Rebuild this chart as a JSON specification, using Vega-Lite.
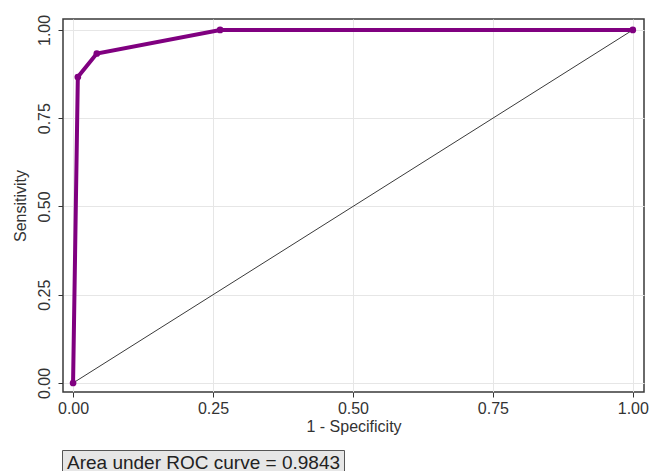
{
  "$schema": "https://vega.github.io/schema/vega-lite/v6.json",
  "autosize": {"type": "none"},
  "width": 581,
  "height": 373,
  "padding": {"left": 63, "top": 19, "right": 5, "bottom": 79},
  "background": "white",
  "config": {
    "font": "Liberation Sans",
    "view": {"stroke": "#3a3a3a", "strokeWidth": 1.5},
    "axis": {
      "labelFont": "Liberation Sans",
      "titleFont": "Liberation Sans",
      "labelFontSize": 16,
      "titleFontSize": 16,
      "titleFontWeight": "normal",
      "labelColor": "#333333",
      "titleColor": "#333333",
      "tickColor": "#333333",
      "tickSize": 5,
      "domain": false,
      "grid": true,
      "gridColor": "#e6e6e6",
      "gridWidth": 1
    },
    "legend": {
      "labelFont": "Liberation Sans"
    }
  },
  "layer": [
    {
      "data": {"values": [
        {"x": 0, "y": 0, "note": "Area under ROC curve = 0.9843"},
        {"x": 1, "y": 1, "note": "Area under ROC curve = 0.9843"}
      ]},
      "mark": {"type": "line", "strokeWidth": 1, "clip": false},
      "encoding": {
        "x": {"field": "x", "type": "quantitative"},
        "y": {"field": "y", "type": "quantitative"},
        "stroke": {
          "field": "note", "type": "nominal",
          "scale": {"range": ["#3a3a3a"]},
          "legend": {
            "title": null,
            "orient": "none",
            "legendX": -1,
            "legendY": 431,
            "fillColor": "#e6e6e6",
            "strokeColor": "#555555",
            "padding": 3,
            "symbolSize": 0,
            "symbolStrokeWidth": 0,
            "symbolOpacity": 0,
            "labelOffset": -17,
            "labelFontSize": 19,
            "labelColor": "#222222",
            "labelLimit": 400
          }
        }
      }
    },
    {
      "data": {"values": [
        {"fpr": 0, "tpr": 0},
        {"fpr": 0.0085, "tpr": 0.8667},
        {"fpr": 0.0424, "tpr": 0.9333},
        {"fpr": 0.2627, "tpr": 1},
        {"fpr": 1, "tpr": 1}
      ]},
      "layer": [
        {
          "mark": {"type": "line", "color": "#800080", "strokeWidth": 4, "clip": false},
          "encoding": {
            "x": {"field": "fpr", "type": "quantitative"},
            "y": {"field": "tpr", "type": "quantitative"}
          }
        },
        {
          "mark": {"type": "point", "filled": true, "color": "#800080", "size": 45, "opacity": 1, "clip": false},
          "encoding": {
            "x": {"field": "fpr", "type": "quantitative"},
            "y": {"field": "tpr", "type": "quantitative"}
          }
        }
      ]
    }
  ],
  "resolve": {"scale": {"x": "shared", "y": "shared"}},
  "encoding": {
    "x": {
      "field": "x", "type": "quantitative",
      "scale": {"domain": [-0.018, 1.02], "nice": false, "zero": false},
      "axis": {
        "values": [0, 0.25, 0.5, 0.75, 1],
        "format": ".2f",
        "title": "1 - Specificity",
        "labelPadding": 3,
        "titlePadding": 2
      }
    },
    "y": {
      "field": "y", "type": "quantitative",
      "scale": {"domain": [-0.0255, 1.031], "nice": false, "zero": false},
      "axis": {
        "values": [0, 0.25, 0.5, 0.75, 1],
        "format": ".2f",
        "title": "Sensitivity",
        "labelAngle": -90,
        "labelAlign": "center",
        "labelBaseline": "bottom",
        "labelPadding": 6,
        "titlePadding": 8
      }
    }
  }
}
